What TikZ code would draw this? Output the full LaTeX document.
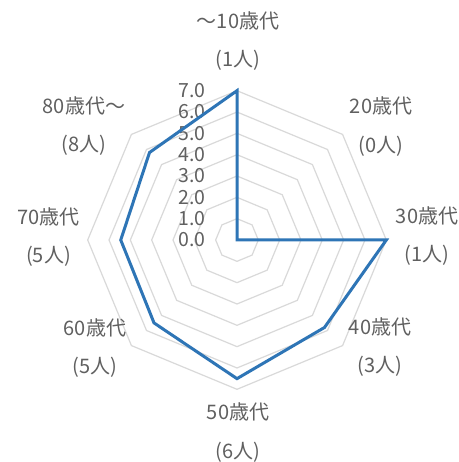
\documentclass[tikz,border=0pt]{standalone}
\usepackage{fontspec}
\newfontfamily\jpfont{Noto Sans CJK JP}
\definecolor{serieblue}{HTML}{2E75B6}
\definecolor{labelgray}{HTML}{606060}
\definecolor{gridgray}{HTML}{D9D9D9}
\tikzset{gridline/.style={color=gridgray, line width=1.2pt},
    series/.style={color=serieblue, line width=3pt},
    ticklabel/.style={anchor=east, inner sep=0pt, color=labelgray, font=\jpfont\fontsize{19.5}{22}\selectfont},
    agelabel/.style={align=center, inner sep=0pt, color=labelgray, font=\jpfont\fontsize{20}{38.5}\selectfont}}
\begin{document}
\begin{tikzpicture}[x=1pt,y=1pt]
    \useasboundingbox[fill=white] (-237,-222) rectangle (221,240);
    % octagon grid, one ring per unit
    \foreach \r in {1,...,7}
        \draw[gridline] (90:{\r*21.33}) -- (45:{\r*21.33}) -- (0:{\r*21.33}) -- (-45:{\r*21.33})
            -- (-90:{\r*21.33}) -- (-135:{\r*21.33}) -- (180:{\r*21.33}) -- (135:{\r*21.33}) -- cycle;
    \foreach \r in {0,...,7}
        \node[ticklabel] (tick\r) at (-31,{\r*21.33}) {\r.0};
    % data points, clockwise from the top
    \foreach \i/\a/\v in {1/90/7, 2/45/0, 3/0/7, 4/-45/5.8, 5/-90/6.5, 6/-135/5.5, 7/180/5.45, 8/135/5.8}
        \coordinate (v\i) at (\a:{\v*21.33});
    \draw[series] (v1) -- (v2) -- (v3) -- (v4) -- (v5) -- (v6) -- (v7) -- (v8) -- cycle;
    \node[agelabel] (age10) at (1,199) {～10歳代\\(1人)};
    \node[agelabel] (age20) at (144,113.5) {20歳代\\(0人)};
    \node[agelabel] (age30) at (190,4) {30歳代\\(1人)};
    \node[agelabel] (age40) at (143,-107) {40歳代\\(3人)};
    \node[agelabel] (age50) at (1,-192.5) {50歳代\\(6人)};
    \node[agelabel] (age60) at (-142,-108) {60歳代\\(5人)};
    \node[agelabel] (age70) at (-188.5,3) {70歳代\\(5人)};
    \node[agelabel] (age80) at (-153,114) {80歳代～\\(8人)};
\end{tikzpicture}
\end{document}
